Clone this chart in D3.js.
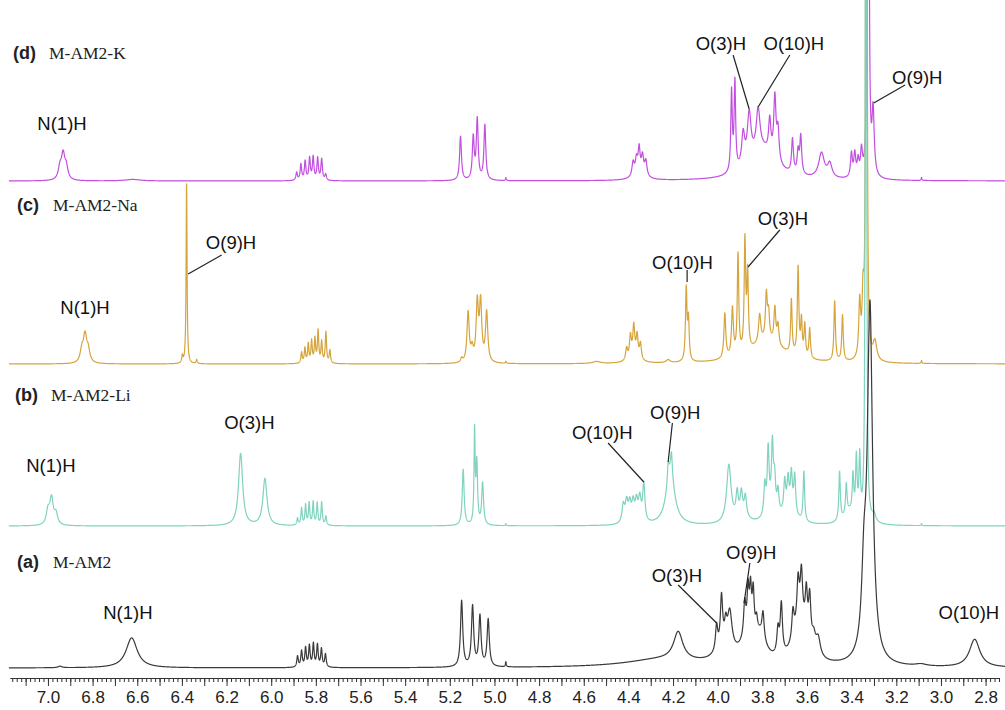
<!doctype html>
<html lang="en">
<head>
<meta charset="utf-8">
<script src="https://cdn.jsdelivr.net/npm/d3@7"></script>
<title>1H NMR M-AM2</title>
<style>
 body { margin: 0; background: #fff; }
 .trace { fill: none; stroke-width: 1.2; stroke-linejoin: round; }
 .peak-label { font-family: "Liberation Sans", Arial, sans-serif; font-size: 18.5px; fill: #111; }
 .leader { stroke: #222; stroke-width: 1.2; }
 .tag { font-family: "Liberation Sans", Arial, sans-serif; font-size: 18px; font-weight: bold; fill: #222; }
 .name { font-family: "Liberation Serif", "Times New Roman", serif; font-size: 17.5px; fill: #222; }
 .axis path, .axis line { stroke: #333; stroke-width: 1; }
 .axis text { font-family: "Liberation Sans", Arial, sans-serif; font-size: 17px; fill: #222; }
</style>
</head>
<body>
<div id="chart"></div>
<script>
// x axis labels (ppm)
var tickLabels = [7.0, 6.8, 6.6, 6.4, 6.2, 6.0, 5.8, 5.6, 5.4, 5.2, 5.0, 4.8, 4.6, 4.4, 4.2, 4.0, 3.8, 3.6, 3.4, 3.2, 3.0, 2.8];

var tags  = ["(d)", "(c)", "(b)", "(a)"];
var names = ["M-AM2-K", "M-AM2-Na", "M-AM2-Li", "M-AM2"];

// peaks: [ppm, height, half width (ppm)]
var peaksK = [
  [6.946, 12, 0.009], [6.932, 24, 0.009], [6.918, 12, 0.009], [6.62, 1.5, 0.04],
  [5.886, 8, 0.004], [5.867, 16, 0.004], [5.848, 19, 0.004], [5.828, 22, 0.004],
  [5.812, 23, 0.004], [5.792, 22, 0.004], [5.774, 21, 0.004], [5.756, 6, 0.004],
  [5.152, 44, 0.005], [5.095, 42, 0.005], [5.077, 60, 0.005], [5.043, 55, 0.005],
  [4.949, 3, 0.002],
  [4.35, 6, 0.03], [4.379, 14, 0.006], [4.364, 15, 0.006], [4.352, 24, 0.005], [4.337, 18, 0.006], [4.322, 15, 0.006],
  [3.80, 30, 0.07], [3.938, 80, 0.004], [3.923, 88, 0.004],
  [3.886, 32, 0.008], [3.859, 48, 0.01], [3.819, 42, 0.01],
  [3.767, 34, 0.006], [3.744, 62, 0.006], [3.730, 32, 0.006],
  [3.665, 34, 0.005], [3.640, 22, 0.005], [3.628, 38, 0.005],
  [3.535, 25, 0.015], [3.498, 14, 0.012],
  [3.401, 24, 0.005], [3.386, 23, 0.005], [3.371, 16, 0.005], [3.356, 25, 0.005],
  [3.326, 3000, 0.0015], [3.304, 64, 0.006], [3.087, 3, 0.002]
];
var peaksNa = [
  [6.848, 12, 0.009], [6.834, 26, 0.009], [6.820, 12, 0.009],
  [6.398, 7, 0.003], [6.379, 180, 0.0025], [6.334, 4, 0.003],
  [5.864, 11, 0.0035], [5.849, 15, 0.0035], [5.834, 19, 0.0035], [5.819, 22, 0.0035], [5.804, 24, 0.0035],
  [5.790, 32, 0.0035], [5.774, 21, 0.0035], [5.755, 31, 0.0035], [5.737, 13, 0.0035],
  [5.147, 4, 0.005], [5.118, 50, 0.006], [5.100, 12, 0.006], [5.077, 58, 0.006], [5.062, 58, 0.006], [5.035, 50, 0.006],
  [4.949, 2, 0.002], [4.543, 2, 0.02],
  [4.375, 6, 0.025], [4.408, 12, 0.005], [4.391, 22, 0.005], [4.376, 30, 0.005], [4.361, 22, 0.005], [4.346, 16, 0.005],
  [4.222, 3, 0.01], [4.141, 72, 0.004], [4.131, 40, 0.004],
  [3.78, 22, 0.09], [3.968, 45, 0.005], [3.934, 48, 0.005], [3.909, 100, 0.004], [3.878, 110, 0.004], [3.866, 75, 0.004],
  [3.812, 28, 0.006], [3.782, 45, 0.005], [3.772, 25, 0.005], [3.744, 35, 0.005], [3.730, 20, 0.005],
  [3.670, 54, 0.004], [3.640, 88, 0.004], [3.625, 35, 0.004], [3.610, 32, 0.004], [3.588, 30, 0.004],
  [3.476, 60, 0.004], [3.441, 46, 0.004],
  [3.364, 55, 0.005], [3.349, 56, 0.005], [3.334, 3000, 0.0015], [3.296, 19, 0.01], [3.087, 3, 0.002]
];
var peaksLi = [
  [7.000, 14, 0.009], [6.984, 26, 0.009], [6.964, 11, 0.009],
  [6.137, 72, 0.011], [6.028, 47, 0.011],
  [5.882, 7, 0.0035], [5.864, 17, 0.0035], [5.846, 20, 0.0035], [5.830, 22, 0.0035],
  [5.812, 23, 0.0035], [5.794, 22, 0.0035], [5.774, 23, 0.0035], [5.755, 9, 0.0035],
  [5.140, 56, 0.005], [5.089, 92, 0.003], [5.079, 60, 0.004], [5.053, 42, 0.005],
  [4.949, 2, 0.002],
  [4.423, 18, 0.007], [4.408, 20, 0.007], [4.394, 18, 0.007], [4.379, 19, 0.007], [4.364, 20, 0.007],
  [4.349, 23, 0.007], [4.331, 38, 0.006],
  [4.212, 55, 0.022], [4.222, 16, 0.004], [4.207, 20, 0.004],
  [3.950, 58, 0.012],
  [3.89, 8, 0.03], [3.913, 24, 0.006], [3.894, 22, 0.006], [3.876, 20, 0.006],
  [3.76, 12, 0.03], [3.789, 30, 0.005], [3.774, 62, 0.005], [3.755, 64, 0.005], [3.745, 30, 0.005], [3.730, 22, 0.005],
  [3.68, 15, 0.03], [3.700, 30, 0.005], [3.685, 28, 0.005], [3.670, 35, 0.005], [3.655, 38, 0.005],
  [3.614, 50, 0.004],
  [3.41, 12, 0.03], [3.454, 49, 0.004], [3.424, 30, 0.004], [3.394, 38, 0.004], [3.379, 58, 0.004], [3.364, 60, 0.004],
  [3.336, 3000, 0.0015], [3.30, 8, 0.01], [3.087, 2, 0.002]
];
var peaksAM2 = [
  [6.946, 1.5, 0.01], [6.625, 30, 0.03],
  [5.882, 11, 0.004], [5.864, 16, 0.004], [5.846, 19, 0.004], [5.829, 21, 0.004],
  [5.811, 23, 0.004], [5.793, 22, 0.004], [5.775, 18, 0.004], [5.757, 13, 0.004],
  [5.147, 66, 0.006], [5.098, 60, 0.006], [5.065, 50, 0.006], [5.028, 47, 0.006],
  [4.949, 5, 0.002],
  [4.25, 8, 0.2], [4.177, 28, 0.025],
  [3.97, 15, 0.04], [4.005, 25, 0.006], [3.983, 48, 0.006], [3.964, 17, 0.006], [3.946, 36, 0.012],
  [3.86, 25, 0.04], [3.879, 33, 0.006], [3.864, 40, 0.005], [3.853, 40, 0.005], [3.841, 40, 0.005],
  [3.81, 20, 0.03], [3.826, 13, 0.005], [3.797, 26, 0.006],
  [3.730, 25, 0.006], [3.715, 50, 0.006],
  [3.63, 45, 0.035], [3.663, 28, 0.006], [3.640, 40, 0.006], [3.625, 45, 0.006], [3.603, 42, 0.006], [3.588, 45, 0.006],
  [3.57, 15, 0.01], [3.550, 18, 0.012],
  [3.345, 70, 0.012], [3.318, 355, 0.014],
  [3.09, 2, 0.03], [2.849, 28, 0.028]
];

// annotations in data coordinates: label centre, leader start, leader end
var notesK = [
  {text: "N(1)H", at: [6.937, 58]},
  {text: "O(3)H", at: [3.986, 138], from: [3.931, 126], to: [3.859, 72]},
  {text: "O(10)H", at: [3.659, 138], from: [3.677, 126], to: [3.819, 74]},
  {text: "O(9)H", at: [3.106, 104], from: [3.161, 96], to: [3.301, 78]}
];
var notesNa = [
  {text: "N(1)H", at: [6.834, 57]},
  {text: "O(9)H", at: [6.180, 122], from: [6.222, 109], to: [6.372, 90]},
  {text: "O(10)H", at: [4.158, 102], from: [4.137, 94], to: [4.137, 82]},
  {text: "O(3)H", at: [3.708, 146], from: [3.722, 134], to: [3.864, 97]}
];
var notesLi = [
  {text: "N(1)H", at: [6.987, 61]},
  {text: "O(3)H", at: [6.098, 104]},
  {text: "O(10)H", at: [4.517, 94], from: [4.491, 83], to: [4.331, 44]},
  {text: "O(9)H", at: [4.190, 114], from: [4.203, 103], to: [4.222, 64]}
];
var notesAM2 = [
  {text: "N(1)H", at: [6.642, 56]},
  {text: "O(3)H", at: [4.183, 93], from: [4.177, 83], to: [4.005, 45]},
  {text: "O(9)H", at: [3.850, 116], from: [3.856, 105], to: [3.882, 65]},
  {text: "O(10)H", at: [2.875, 56]}
];

var W = 1005, H = 710;
var baselines = [181, 364, 526, 668];
var colors = ["#c24fe0", "#d6a43c", "#7fd3bf", "#3a3a3a"];
var tagPos = [[13, 53], [17, 205], [15, 395], [17, 562]];
var peakSets = [peaksK, peaksNa, peaksLi, peaksAM2];
var noteSets = [notesK, notesNa, notesLi, notesAM2];

var svg = d3.select("#chart").append("svg")
    .attr("width", W)
    .attr("height", H);

var x = d3.scaleLinear().domain([7.17, 2.74]).range([10, 999]);

function intensity(peaks, ppm) {
    var s = 0;
    for (var i = 0; i < peaks.length; i++) {
        var u = (ppm - peaks[i][0]) / peaks[i][2];
        s += peaks[i][1] / (1 + u * u);
    }
    return s;
}

var grid = d3.range(7.175, 2.71, -0.0004);

// Traces
peakSets.forEach(function (peaks, i) {
    var y = d3.scaleLinear().domain([0, 100]).range([baselines[i], baselines[i] - 100]);
    var pts = grid.concat(peaks.map(function (p) { return p[0]; })).sort(d3.descending);
    var data = pts.map(function (p) { return [p, intensity(peaks, p)]; });
    var line = d3.line()
        .x(function (d) { return x(d[0]); })
        .y(function (d) { return y(d[1]); });
    svg.append("path")
        .datum(data)
        .attr("class", "trace")
        .attr("stroke", colors[i])
        .attr("d", line);
});

// Labels
noteSets.forEach(function (notes, i) {
    var y = d3.scaleLinear().domain([0, 100]).range([baselines[i], baselines[i] - 100]);
    var g = svg.append("g");
    g.selectAll(".leader").data(notes.filter(function (n) { return n.from; }))
      .enter().append("line")
        .attr("class", "leader")
        .attr("x1", function (n) { return x(n.from[0]); })
        .attr("y1", function (n) { return y(n.from[1]); })
        .attr("x2", function (n) { return x(n.to[0]); })
        .attr("y2", function (n) { return y(n.to[1]); });
    g.selectAll(".peak-label").data(notes)
      .enter().append("text")
        .attr("class", "peak-label")
        .attr("text-anchor", "middle")
        .attr("x", function (n) { return x(n.at[0]); })
        .attr("y", function (n) { return y(n.at[1]); })
        .attr("dy", "0.36em")
        .text(function (n) { return n.text; });

    svg.append("text")
        .attr("class", "tag")
        .attr("x", tagPos[i][0])
        .attr("y", tagPos[i][1])
        .attr("dy", "0.36em")
        .text(tags[i]);
    svg.append("text")
        .attr("class", "name")
        .attr("x", tagPos[i][0] + 36)
        .attr("y", tagPos[i][1])
        .attr("dy", "0.33em")
        .text(names[i]);
});

// Axis
var axisY = 678;
svg.append("g")
    .attr("class", "axis")
    .attr("transform", "translate(0," + axisY + ")")
    .call(d3.axisBottom(x)
        .tickValues(d3.range(7.16, 2.739, -0.02))
        .tickSize(4)
        .tickSizeOuter(0)
        .tickFormat(""));
svg.append("g")
    .attr("class", "axis")
    .attr("transform", "translate(0," + axisY + ")")
    .call(d3.axisBottom(x)
        .tickValues(d3.range(7.1, 2.739, -0.1))
        .tickSize(8)
        .tickSizeOuter(0)
        .tickPadding(5)
        .tickFormat(function (d) {
            var hit = tickLabels.filter(function (t) { return Math.abs(t - d) < 1e-6; });
            return hit.length ? d3.format(".1f")(hit[0]) : "";
        }));
</script>
</body>
</html>
